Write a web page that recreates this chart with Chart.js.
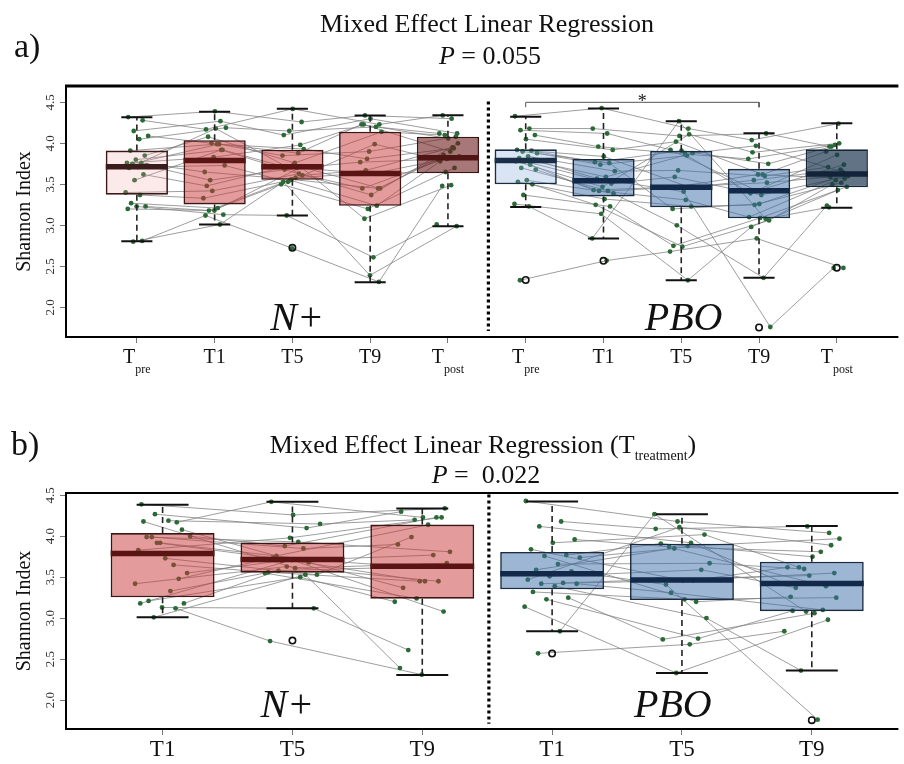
<!DOCTYPE html>
<html>
<head>
<meta charset="utf-8">
<script src="https://cdn.jsdelivr.net/npm/chart.js@4.4.1/dist/chart.umd.min.js"></script>
<style>
  body { margin: 0; background: #fff; }
  #wrap { position: relative; width: 904px; height: 764px; }
  canvas { position: absolute; left: 0; }
  #chartA { top: 0; }
  #chartB { top: 392px; }
</style>
</head>
<body>
<div id="wrap">
  <canvas id="chartA" width="904" height="392"></canvas>
  <canvas id="chartB" width="904" height="372"></canvas>
</div>
<script>
// ---- data (Shannon index, 24 subjects per group) ----
const nPlusPre  = [4.32, 4.28, 4.15, 4.09, 4.05, 3.91, 3.85, 3.80, 3.76, 3.76, 3.75, 3.73, 3.71, 3.70, 3.62, 3.55, 3.40, 3.37, 3.27, 3.23, 3.23, 3.20, 2.81, 2.80];
const nPlusT1   = [4.39, 4.17, 4.27, 4.00, 4.19, 3.99, 4.08, 3.92, 3.83, 3.65, 3.99, 3.55, 3.73, 4.18, 3.48, 3.92, 3.42, 3.33, 3.21, 3.18, 3.13, 3.18, 3.12, 3.01];
const nPlusT5   = [4.26, 4.42, 4.10, 3.88, 4.15, 3.93, 3.76, 3.71, 3.98, 3.56, 3.85, 3.70, 3.53, 3.61, 3.74, 3.68, 3.63, 3.55, 3.50, 3.58, 3.12, 3.71, 2.72, 3.53];
const nPlusT9   = [4.34, 4.23, 4.30, 4.23, 4.20, 3.81, 4.14, 3.63, 4.23, 3.45, 3.90, 3.77, 3.99, 3.67, 3.45, 3.37, 3.45, 3.24, 3.20, 3.63, 2.61, 3.08, 2.31, 2.39];
const nPlusPost = [4.30, 4.34, 4.12, 4.06, 4.12, 3.94, 4.10, 3.84, 3.90, 3.82, 4.08, 3.81, 3.80, 3.95, 3.86, 4.00, 3.83, 3.78, 3.70, 3.65, 3.01, 3.49, 3.48, 2.99];

const pboPre  = [4.33, 4.18, 4.16, 4.10, 4.05, 3.92, 3.91, 3.90, 3.88, 3.84, 3.82, 3.80, 3.78, 3.78, 3.74, 3.70, 3.68, 3.55, 3.53, 3.50, 3.37, 3.26, 3.23, 2.33];
const pboT1   = [4.43, 4.18, 4.12, 3.96, 3.92, 3.84, 3.77, 3.76, 3.74, 3.66, 3.59, 3.57, 3.51, 3.47, 3.43, 3.42, 3.42, 3.39, 3.32, 3.25, 3.23, 3.14, 2.84, 2.57];
const pboT5   = [4.18, 4.09, 3.92, 3.87, 4.02, 3.46, 3.91, 3.20, 3.85, 3.67, 3.88, 3.41, 3.59, 4.11, 3.47, 3.46, 3.31, 3.00, 3.23, 2.74, 2.75, 2.33, 4.27, 2.68];
const pboT9   = [4.04, 4.12, 3.42, 3.81, 3.62, 3.55, 3.75, 3.26, 3.39, 3.60, 3.97, 1.76, 3.37, 3.89, 3.52, 3.62, 3.10, 2.36, 3.25, 3.06, 3.09, 2.98, 3.08, 2.84];
const pboPost = [4.24, 3.96, 3.74, 3.98, 3.90, 3.68, 3.96, 3.62, 3.86, 3.71, 3.65, 2.48, 3.60, 4.00, 3.59, 3.57, 3.55, 3.24, 3.52, 3.50, 3.47, 3.43, 3.22, 2.48];

// box statistics, order: N+ Tpre,T1,T5,T9,Tpost, PBO Tpre,T1,T5,T9,Tpost
const boxLow    = [2.805, 3.01, 3.12, 2.305, 2.99, 3.224, 2.84, 2.33, 2.36, 3.215];
const boxQ1     = [3.374, 3.255, 3.555, 3.238, 3.634, 3.50, 3.352, 3.22, 3.085, 3.463];
const boxMedian = [3.715, 3.79, 3.715, 3.632, 3.825, 3.789, 3.543, 3.465, 3.423, 3.626];
const boxQ3     = [3.911, 4.038, 3.923, 4.142, 4.081, 3.927, 3.809, 3.909, 3.689, 3.927];
const boxHigh   = [4.317, 4.385, 4.421, 4.339, 4.341, 4.325, 4.425, 4.268, 4.124, 4.244];
const outlierBox = [2, 5, 6, 8, 9];
const outlierVal = [2.726, 2.333, 2.567, 1.754, 2.484];

const yTicks = [2.0, 2.5, 3.0, 3.5, 4.0, 4.5];
const tickMainA = ['T', 'T1', 'T5', 'T9', 'T', 'T', 'T1', 'T5', 'T9', 'T'];
const tickSubA  = ['pre', '', '', '', 'post', 'pre', '', '', '', 'post'];
const tickMainB = ['T1', 'T5', 'T9', 'T1', 'T5', 'T9'];
const groupNames = ['N+', 'PBO'];

// ---- styling ----
const serif = '"Liberation Serif", "Times New Roman", serif';
Chart.defaults.font.family = serif;
const boxFill = ['rgba(240,160,160,0.22)', 'rgba(200,56,56,0.5)', 'rgba(200,56,56,0.5)', 'rgba(200,56,56,0.5)', 'rgba(110,30,30,0.6)',
                 'rgba(130,170,220,0.3)', 'rgba(60,110,170,0.5)', 'rgba(60,110,170,0.5)', 'rgba(60,110,170,0.5)', 'rgba(30,55,80,0.7)'];
const boxEdge = ['#3d1818', '#3d1515', '#3d1515', '#3d1515', '#3a1414', '#1b2c42', '#1b2c42', '#1b2c42', '#1b2c42', '#16263a'];
const medColor = ['#3a1c1c', '#5a1414', '#5a1414', '#5a1414', '#501515', '#1a2e48', '#12294a', '#12294a', '#12294a', '#13243a'];

function jitter(s, t, amp) {
  const f = (s * 0.618034 + t * 0.381966 + 0.13) % 1;
  return (f - 0.5) * 2 * amp;
}

function halfPx(chart, units) {
  const x = chart.scales.x;
  return x.getPixelForValue(units) - x.getPixelForValue(0);
}

function drawRich(ctx, parts, cx, y) {
  let total = 0;
  parts.forEach(p => { ctx.font = p.font; p.w = ctx.measureText(p.text).width; total += p.w; });
  let x = cx - total / 2;
  parts.forEach(p => { ctx.font = p.font; ctx.fillText(p.text, x, y + (p.dy || 0)); x += p.w; });
}

function buildDatasets(groups, boxIdx, amp, sepX, bracket) {
  const ds = [];
  const pts = [];
  groups.forEach((series, g) => {
    const base = g * series.length;
    for (let s = 0; s < series[0].length; s++) {
      const line = series.map((vals, t) => ({ x: base + t + jitter(s, t + g * 5, amp), y: vals[s] }));
      pts.push(...line);
      ds.push({ type: 'line', data: line, borderColor: 'rgba(125,125,125,0.75)', borderWidth: 1, pointRadius: 0, order: 5 });
    }
  });
  ds.push({ type: 'scatter', data: pts, backgroundColor: '#2b6a37', borderWidth: 0, pointRadius: 2.4, order: 4 });

  const wh = [];
  boxIdx.forEach((k, i) => {
    wh.push({ x: i, y: boxQ3[k] }, { x: i, y: boxHigh[k] }, { x: i, y: null },
            { x: i, y: boxQ1[k] }, { x: i, y: boxLow[k] }, { x: i, y: null });
  });
  ds.push({ type: 'line', data: wh, borderColor: '#222', borderWidth: 1.6, borderDash: [6, 4], pointRadius: 0, spanGaps: false, order: 3 });

  ds.push({
    type: 'bar', data: boxIdx.map((k, i) => ({ x: i, y: [boxQ1[k], boxQ3[k]] })),
    backgroundColor: boxIdx.map(k => boxFill[k]), borderColor: boxIdx.map(k => boxEdge[k]),
    borderWidth: 1.6, borderSkipped: false, categoryPercentage: 1, barPercentage: 0.8, grouped: false, order: 2
  });

  const caps = [];
  boxIdx.forEach((k, i) => { caps.push({ x: i, y: boxHigh[k] }, { x: i, y: boxLow[k] }); });
  ds.push({ type: 'scatter', data: caps, pointStyle: 'line', borderColor: '#111', borderWidth: 2,
            pointRadius: c => halfPx(c.chart, 0.2), order: 1 });

  ds.push({ type: 'scatter', data: boxIdx.map((k, i) => ({ x: i, y: boxMedian[k] })), pointStyle: 'line',
            borderColor: boxIdx.map(k => medColor[k]), borderWidth: 5.5, pointRadius: c => halfPx(c.chart, 0.4), order: 0 });

  const outs = [];
  outlierBox.forEach((k, j) => { const i = boxIdx.indexOf(k); if (i >= 0) outs.push({ x: i, y: outlierVal[j] }); });
  ds.push({ type: 'scatter', data: outs, pointStyle: 'circle', backgroundColor: 'rgba(255,255,255,0)', borderColor: '#111',
            borderWidth: 1.6, pointRadius: 3.2, order: 0 });

  ds.push({ type: 'line', data: [{ x: sepX, y: 4.51 }, { x: sepX, y: 1.71 }], borderColor: '#000', borderWidth: 3.2,
            borderDash: [3, 3], pointRadius: 0, order: 0 });

  if (bracket) {
    ds.push({ type: 'line', data: [{ x: bracket[0], y: 4.44 }, { x: bracket[0], y: 4.5 }, { x: bracket[1], y: 4.5 }, { x: bracket[1], y: 4.44 }],
              borderColor: '#555', borderWidth: 1, pointRadius: 0, order: 0 });
  }
  return ds;
}

function makeChart(id, cfg) {
  const decor = {
    id: 'decor',
    afterDraw(chart) {
      const { ctx, chartArea: a, scales: { x, y } } = chart;
      ctx.save();
      ctx.strokeStyle = '#000';
      ctx.lineWidth = 2;
      ctx.beginPath();
      ctx.moveTo(a.left, a.top); ctx.lineTo(a.left, a.bottom); ctx.lineTo(a.right, a.bottom);
      ctx.stroke();
      ctx.lineWidth = cfg.topWidth;
      ctx.beginPath(); ctx.moveTo(a.left - 1, a.top); ctx.lineTo(a.right, a.top); ctx.stroke();

      ctx.fillStyle = '#111';
      ctx.textAlign = 'left';
      ctx.textBaseline = 'alphabetic';
      cfg.tickMain.forEach((m, i) => {
        const parts = [{ text: m, font: cfg.labelSize + 'px ' + serif }];
        if (cfg.tickSub && cfg.tickSub[i]) parts.push({ text: cfg.tickSub[i], font: cfg.subSize + 'px ' + serif, dy: cfg.subDy });
        drawRich(ctx, parts, x.getPixelForValue(i), cfg.labelBase);
      });

      cfg.titles.forEach(t => drawRich(ctx, t.parts, t.x, t.y));
      ctx.font = '34px ' + serif;
      ctx.fillText(cfg.tag, cfg.tagX, cfg.tagY);

      ctx.textAlign = 'center';
      ctx.font = 'italic 40px ' + serif;
      cfg.groupAt.forEach((gx, g) => ctx.fillText(groupNames[g], x.getPixelForValue(gx), y.getPixelForValue(cfg.groupY)));
      if (cfg.star) {
        ctx.font = '18px ' + serif;
        ctx.fillText('*', x.getPixelForValue(cfg.star), y.getPixelForValue(4.5) + 5);
      }
      ctx.restore();
    }
  };

  return new Chart(document.getElementById(id), {
    type: 'scatter',
    data: { datasets: buildDatasets(cfg.groups, cfg.boxIdx, cfg.amp, cfg.sepX, cfg.bracket) },
    options: {
      responsive: false,
      animation: false,
      events: [],
      devicePixelRatio: 1,
      layout: { padding: { top: cfg.top, left: 0, right: 0, bottom: 0 } },
      plugins: { legend: { display: false }, tooltip: { enabled: false } },
      scales: {
        x: {
          type: 'linear', min: cfg.xMin, max: cfg.xMax, offset: false,
          afterBuildTicks: s => { s.ticks = cfg.tickMain.map((_, i) => ({ value: i })); },
          afterFit: s => { s.height = cfg.axisH; },
          ticks: { display: false },
          grid: { display: true, offset: false, drawOnChartArea: false, drawTicks: true, tickLength: 6, color: '#777' },
          border: { display: false }
        },
        y: {
          min: cfg.yMin, max: cfg.yMax,
          afterBuildTicks: s => { s.ticks = yTicks.map(v => ({ value: v })); },
          afterFit: s => { s.width = 66; },
          ticks: { font: { family: serif, size: 13 }, color: '#333', minRotation: 90, maxRotation: 90,
                   crossAlign: 'center', padding: 1, callback: v => Number(v).toFixed(1) },
          grid: { display: true, offset: false, drawOnChartArea: false, tickLength: 6, color: '#777' },
          border: { display: false },
          title: { display: true, text: 'Shannon Index', font: { family: serif, size: 20 }, color: '#111', padding: { top: 13, bottom: 0 } }
        }
      }
    },
    plugins: [decor]
  });
}

makeChart('chartA', {
  groups: [[nPlusPre, nPlusT1, nPlusT5, nPlusT9, nPlusPost], [pboPre, pboT1, pboT5, pboT9, pboPost]],
  boxIdx: [0, 1, 2, 3, 4, 5, 6, 7, 8, 9],
  amp: 0.15, sepX: 4.52, bracket: [5, 8], star: 6.5,
  top: 86, axisH: 55, xMin: -0.911, xMax: 9.792, yMin: 1.638, yMax: 4.699, topWidth: 3,
  tickMain: tickMainA, tickSub: tickSubA, labelSize: 20, subSize: 12, subDy: 10, labelBase: 363,
  groupAt: [2.06, 7.03], groupY: 1.72,
  tag: 'a)', tagX: 14, tagY: 57,
  titles: [
    { x: 487, y: 32, parts: [{ text: 'Mixed Effect Linear Regression', font: '26px ' + serif }] },
    { x: 490, y: 64, parts: [{ text: 'P', font: 'italic 26px ' + serif }, { text: ' = 0.055', font: '26px ' + serif }] }
  ]
});

makeChart('chartB', {
  groups: [[nPlusT1, nPlusT5, nPlusT9], [pboT1, pboT5, pboT9]],
  boxIdx: [1, 2, 3, 6, 7, 8],
  amp: 0.22, sepX: 2.513, bracket: null, star: null,
  top: 101, axisH: 35, xMin: -0.744, xMax: 5.667, yMin: 1.646, yMax: 4.528, topWidth: 2,
  tickMain: tickMainB, tickSub: null, labelSize: 23, subSize: 13, subDy: 9, labelBase: 364,
  groupAt: [0.96, 3.93], groupY: 1.79,
  tag: 'b)', tagX: 11, tagY: 63,
  titles: [
    { x: 483, y: 61, parts: [{ text: 'Mixed Effect Linear Regression (', font: '26px ' + serif }, { text: 'T', font: '26px ' + serif },
                             { text: 'treatment', font: '14px ' + serif, dy: 7 }, { text: ')', font: '26px ' + serif }] },
    { x: 486, y: 91, parts: [{ text: 'P', font: 'italic 26px ' + serif }, { text: ' =  0.022', font: '26px ' + serif }] }
  ]
});
</script>
</body>
</html>
